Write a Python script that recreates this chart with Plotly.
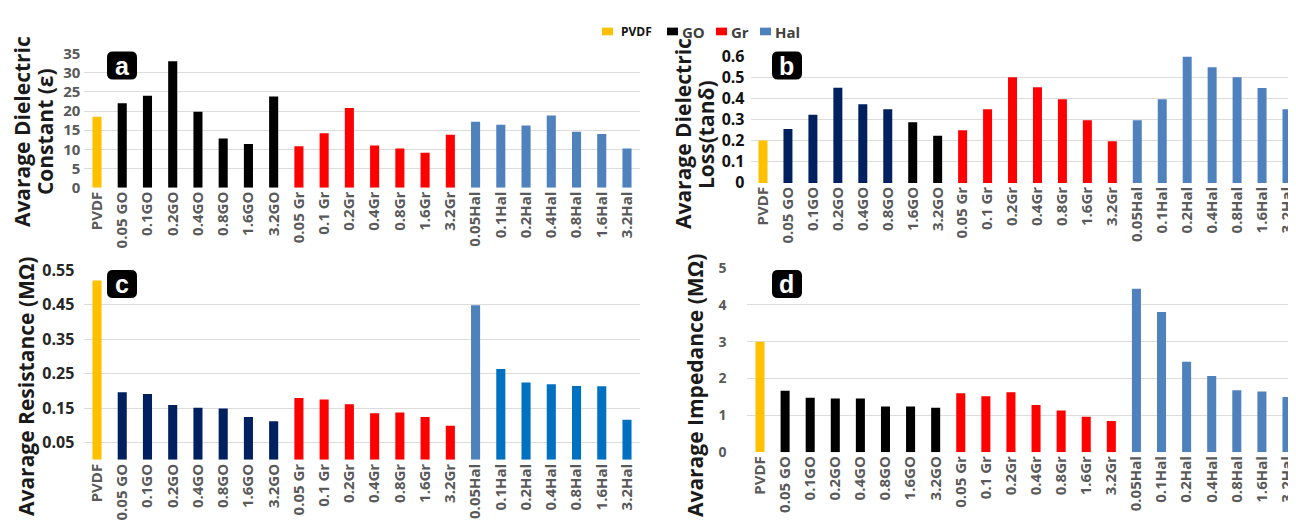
import plotly.graph_objects as go

# ---------------- data ----------------
categories = ["PVDF", "0.05 GO", "0.1GO", "0.2GO", "0.4GO", "0.8GO", "1.6GO", "3.2GO",
              "0.05 Gr", "0.1 Gr", "0.2Gr", "0.4Gr", "0.8Gr", "1.6Gr", "3.2Gr",
              "0.05Hal", "0.1Hal", "0.2Hal", "0.4Hal", "0.8Hal", "1.6Hal", "3.2Hal"]
groups = ["PVDF"] + ["GO"] * 7 + ["Gr"] * 7 + ["Hal"] * 7

dielectric_constant = [18.5, 22.0, 24.0, 33.0, 19.8, 12.8, 11.4, 23.8,
                       10.8, 14.2, 20.8, 11.0, 10.2, 9.1, 13.8,
                       17.2, 16.4, 16.2, 18.8, 14.6, 14.0, 10.2]
dielectric_loss = [0.201, 0.256, 0.323, 0.451, 0.373, 0.349, 0.288, 0.223,
                   0.250, 0.349, 0.501, 0.454, 0.397, 0.297, 0.197,
                   0.297, 0.397, 0.600, 0.548, 0.501, 0.450, 0.349]
resistance = [0.520, 0.196, 0.191, 0.159, 0.151, 0.149, 0.124, 0.112,
              0.179, 0.175, 0.161, 0.135, 0.137, 0.124, 0.099,
              0.448, 0.263, 0.224, 0.219, 0.214, 0.213, 0.116]
impedance = [3.00, 1.67, 1.48, 1.46, 1.46, 1.24, 1.24, 1.21,
             1.60, 1.52, 1.63, 1.28, 1.13, 0.96, 0.85,
             4.44, 3.81, 2.46, 2.07, 1.68, 1.65, 1.50]

legend_labels = ["PVDF", "GO", "Gr", "Hal"]

# ---------------- styles ----------------
W, H = 1296, 528
OFF = 8  # page body margin shifts the graph by this many pixels
YEL, BLK, NAVY, RED, HAL, HAL2 = "#FFC000", "#000000", "#002060", "#FF0000", "#4F81BD", "#0070C0"
base_map = {"PVDF": YEL, "GO": BLK, "Gr": RED, "Hal": HAL}
colors_a = [base_map[g] for g in groups]
colors_d = list(colors_a)
colors_b = [base_map[g] for g in groups]
for i in range(1, 6):
    colors_b[i] = NAVY
colors_c = [NAVY if g == "GO" else base_map[g] for g in groups]
for i, g in enumerate(groups):
    if g == "Hal" and i > 15:
        colors_c[i] = HAL2


def px(x):
    return (x - OFF) / W


def py(y):
    return 1 - (y - OFF) / H


def xaxis_geom(first_center, last_center, n, right_limit=None):
    s = (last_center - first_center) / (n - 1)
    left = first_center - s / 2
    if right_limit is None:
        right = last_center + s / 2
        rmax = n - 0.5
    else:
        right = right_limit
        rmax = (right - left) / s - 0.5
    return (left, right), [-0.5, rmax]


FONT = "Open Sans"
fig = go.Figure()

n = len(categories)
xa_dom, xa_rng = xaxis_geom(97, 627, n)
xb_dom, xb_rng = xaxis_geom(763, 1287, n, right_limit=W + OFF)
xd_dom, xd_rng = xaxis_geom(760, 1287, n, right_limit=W + OFF)

panels = [
    # values, colors, axis suffix, x domain px, y domain px, xrange, yrange, tick color, tick size, standoff
    (dielectric_constant, colors_a, "", xa_dom, (184, 44), xa_rng, [0, 35], "#595959", 15, 3),
    (dielectric_loss, colors_b, "2", xb_dom, (179, 47), xb_rng, [0, 0.6], "#111111", 16, 5),
    (resistance, colors_c, "3", xa_dom, (468, 270), xa_rng, [0, 0.55], "#262626", 16, 9),
    (impedance, colors_d, "4", xd_dom, (460, 268), xd_rng, [0, 5], "#595959", 14, 20),
]

layout_axes = {}
for vals, cols, sfx, xd, yd, xr, yr, tcol, tsize, stand in panels:
    fig.add_trace(go.Bar(x=categories, y=vals, marker=dict(color=cols, line=dict(width=0)),
                         width=0.36, xaxis="x" + sfx, yaxis="y" + sfx, showlegend=False))
    layout_axes["xaxis" + sfx] = dict(
        domain=[px(xd[0]), min(1, px(xd[1]))], anchor="y" + sfx, type="category",
        categoryorder="array", categoryarray=categories, range=xr,
        tickangle=-90, showgrid=False, zeroline=False, showline=False, ticks="",
        tickfont=dict(family=FONT, size=15, color="#595959", weight="bold"),
    )
    ydict = dict(
        domain=[py(yd[0]), py(yd[1])], anchor="x" + sfx, range=yr,
        showgrid=True, gridcolor="#DCDCDC", gridwidth=1, zeroline=False,
        showline=False, ticks="", ticklabelstandoff=stand,
        tickfont=dict(family=FONT, size=tsize, color=tcol, weight="bold"),
    )
    if sfx == "":
        ydict.update(tickvals=[0, 5, 10, 15, 20, 25, 30, 35])
    elif sfx == "2":
        ydict.update(tickvals=[0, 0.1, 0.2, 0.3, 0.4, 0.5, 0.6],
                     ticktext=["0", "0.1", "0.2", "0.3", "0.4", "0.5", "0.6"])
    elif sfx == "3":
        ydict.update(tickvals=[0.05, 0.15, 0.25, 0.35, 0.45, 0.55])
    else:
        ydict.update(tickvals=[0, 1, 2, 3, 4, 5])
    layout_axes["yaxis" + sfx] = ydict

annotations = []
shapes = []

# y-axis titles
title_font = dict(family=FONT, size=21, color="#1A1A1A", weight="bold")
for text, x, y in [("Avarage Dielectric", 22, 126), ("Constant (ε)", 45, 126),
                   ("Avarage Dielectric", 683, 128), ("Loss(tanδ)", 706, 128),
                   ("Avarage Resistance (MΩ)", 26, 392), ("Avarage Impedance (MΩ)", 695, 391)]:
    annotations.append(dict(text=text, x=px(x), y=py(y), xref="paper", yref="paper",
                            showarrow=False, textangle=-90, font=title_font,
                            xanchor="center", yanchor="middle"))

# panel badges
for letter, x0, y0 in [("a", 107, 42), ("b", 772, 42), ("c", 107, 270), ("d", 772, 270)]:
    x1, y1, r = x0 + 30, y0 + 29, 6
    path = (f"M{px(x0 + r)},{py(y0)} L{px(x1 - r)},{py(y0)} Q{px(x1)},{py(y0)} {px(x1)},{py(y0 + r)} "
            f"L{px(x1)},{py(y1 - r)} Q{px(x1)},{py(y1)} {px(x1 - r)},{py(y1)} "
            f"L{px(x0 + r)},{py(y1)} Q{px(x0)},{py(y1)} {px(x0)},{py(y1 - r)} "
            f"L{px(x0)},{py(y0 + r)} Q{px(x0)},{py(y0)} {px(x0 + r)},{py(y0)} Z")
    shapes.append(dict(type="path", path=path, xref="paper", yref="paper",
                       fillcolor="#000000", line=dict(width=0), layer="above"))
    annotations.append(dict(text=letter, x=px(x0 + 15), y=py(y0 + 15), xref="paper", yref="paper",
                            showarrow=False, xanchor="center", yanchor="middle",
                            font=dict(family="Liberation Sans", size=25, color="#FFFFFF", weight="bold")))

# legend (top centre)
leg_pos = [(602, 619), (667, 680), (716, 729), (760, 773)]
leg_cols = [YEL, BLK, RED, HAL]
for lab, (sx, tx), c in zip(legend_labels, leg_pos, leg_cols):
    shapes.append(dict(type="rect", xref="paper", yref="paper", x0=px(sx), x1=px(sx + 11),
                       y0=py(25), y1=py(17), fillcolor=c, line=dict(width=0)))
    if lab == "PVDF":
        f = dict(family=FONT, size=12, color="#111111", weight="bold")
    else:
        f = dict(family=FONT, size=15, color="#404040", weight="bold")
    annotations.append(dict(text=lab, x=px(tx), y=py(21.5), xref="paper", yref="paper",
                            showarrow=False, xanchor="left", yanchor="middle", font=f))

fig.update_layout(
    width=W, height=H, margin=dict(l=0, r=0, t=0, b=0),
    paper_bgcolor="white", plot_bgcolor="white",
    showlegend=False, annotations=annotations, shapes=shapes,
    **layout_axes,
)

fig.write_html("out.html")
